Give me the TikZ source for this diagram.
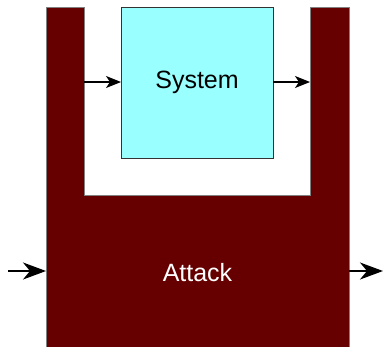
\documentclass[tikz,border=0pt]{standalone}
\usepackage{fontspec}
\setmainfont{Liberation Sans}
\usetikzlibrary{arrows.meta}
\definecolor{attackred}{HTML}{660000}
\definecolor{syscyan}{HTML}{99FFFF}
\tikzset{
  attackshape/.style={fill=attackred, draw=gray, line width=0.8pt},
  sysbox/.style={draw=black!80, fill=syscyan, line width=0.8pt, minimum width=152pt, minimum height=151pt, inner sep=0pt},
  lbl/.style={font=\fontsize{25}{30}\selectfont},
  smallarrow/.style={-{Stealth[length=15pt,width=12pt,inset=4pt]}, line width=1.2pt},
  bigarrow/.style={-{Stealth[length=23pt,width=17pt,inset=7pt]}, line width=1.8pt},
}
\begin{document}
\begin{tikzpicture}[x=1pt,y=-1pt]
\clip (0,0) rectangle (383,346);
\fill[white] (0,0) rectangle (383,346);
\draw[attackshape] (46,7) -- (84,7) -- (84,195) -- (310,195) -- (310,7) -- (349,7) -- (349,360) -- (46,360) -- cycle;
\node[lbl, text=white] (attack) at (197.5,273) {Attack};
\node[sysbox, anchor=north west] (system) at (121,7) {};
\node[lbl] (systxt) at (197,82) {System};
\coordinate (inL) at (84,82);
\coordinate (outR) at (310,82);
\coordinate (sysL) at (121,82);
\coordinate (sysR) at (273,82);
\coordinate (aStart) at (8,271);
\coordinate (aL) at (46,271);
\coordinate (aR) at (349,271);
\coordinate (aEnd) at (383,271);
\draw[smallarrow] (inL) -- (sysL);
\draw[smallarrow] (sysR) -- (outR);
\draw[bigarrow] (aStart) -- (aL);
\draw[bigarrow] (aR) -- (aEnd);
\end{tikzpicture}
\end{document}
